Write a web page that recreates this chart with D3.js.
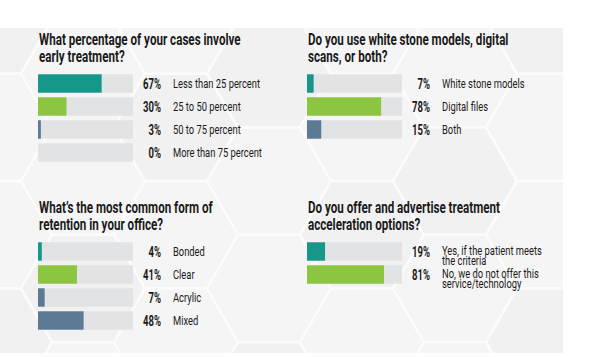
<!DOCTYPE html>
<html><head><meta charset="utf-8">
<script src="https://cdn.jsdelivr.net/npm/d3@7"></script>
<style>html,body{margin:0;padding:0;background:#fff;}svg{display:block;}</style>
</head><body>
<svg id="c" width="600" height="357"></svg>
<script>
// ---- data ----
const q1Title = ["What percentage of your cases involve", "early treatment?"];
const q1Cats = [["Less than 25 percent"], ["25 to 50 percent"], ["50 to 75 percent"], ["More than 75 percent"]];
const q1Vals = [67, 30, 3, 0];
const q1Cols = ["teal", "green", "slate", "slate"];

const q2Title = ["Do you use white stone models, digital", "scans, or both?"];
const q2Cats = [["White stone models"], ["Digital files"], ["Both"]];
const q2Vals = [7, 78, 15];
const q2Cols = ["teal", "green", "slate"];

const q3Title = ["What\u2019s the most common form of", "retention in your office?"];
const q3Cats = [["Bonded"], ["Clear"], ["Acrylic"], ["Mixed"]];
const q3Vals = [4, 41, 7, 48];
const q3Cols = ["teal", "green", "slate", "slate"];

const q4Title = ["Do you offer and advertise treatment", "acceleration options?"];
const q4Cats = [["Yes, if the patient meets", "the criteria"], ["No, we do not offer this", "service/technology"]];
const q4Vals = [19, 81];
const q4Cols = ["teal", "green"];

const palette = {teal: "#17968a", green: "#8cc540", slate: "#5c7a93"};
const track = "#e1e3e4";

const svg = d3.select("#c");

// ---- background ----
const bg = svg.append("g");
bg.append("rect").attr("x", 0).attr("y", 28).attr("width", 563).attr("height", 325).attr("fill", "#f4f4f4");
const clip = svg.append("clipPath").attr("id", "bgclip");
clip.append("rect").attr("x", 0).attr("y", 28).attr("width", 563).attr("height", 325);
const hexG = bg.append("g").attr("clip-path", "url(#bgclip)");
const R = 62, hw = R * 1.5, hh = R * Math.sqrt(3);
const hexPath = d3.line()(d3.range(7).map(i => [R * Math.cos(i * Math.PI / 3), R * Math.sin(i * Math.PI / 3)]));
for (let c = -1; c < 8; c++) {
  for (let r = -1; r < 5; r++) {
    const cx = c * hw - 10, cy = r * hh + (c % 2 ? hh / 2 : 0) + 20;
    hexG.append("path").attr("d", hexPath).attr("transform", `translate(${cx},${cy})`)
      .attr("fill", (c + r) % 3 === 0 ? "#f1f1f1" : "#f5f5f5").attr("stroke", "#fcfcfc").attr("stroke-width", 2.5);
  }
}

// ---- panels ----
function ctext(g, x, y, lines, size, weight, sx, anchor, lh) {
  const t = g.append("text")
    .attr("transform", `translate(${x},${y}) scale(${sx},1)`)
    .attr("font-family", "Roboto, 'Liberation Sans', sans-serif")
    .attr("font-size", size).attr("font-weight", weight).attr("fill", "#1a1a1a")
    .attr("text-anchor", anchor || "start");
  [].concat(lines).forEach((l, j) => t.append("tspan").attr("x", 0).attr("y", j * (lh || 0)).text(l));
  return t;
}

function panel(x0, yTitle, title, cats, vals, cols) {
  const g = svg.append("g");
  ctext(g, x0 + 1, yTitle, title, 16.5, 700, 0.705, "start", 17);
  const barTop = yTitle + 27;
  const y = d3.scaleBand().domain(d3.range(cats.length)).range([barTop, barTop + 23 * cats.length]).paddingInner(0.2).paddingOuter(0.1);
  const x = d3.scaleLinear().domain([0, 100]).range([x0, x0 + 95]);
  const rows = g.selectAll("g.row").data(vals).join("g").attr("class", "row");
  rows.append("rect").attr("x", x(0)).attr("y", (d, i) => y(i)).attr("width", x(100) - x(0)).attr("height", y.bandwidth()).attr("fill", track);
  rows.append("rect").attr("x", x(0)).attr("y", (d, i) => y(i)).attr("width", d => x(d) - x(0)).attr("height", y.bandwidth()).attr("fill", (d, i) => palette[cols[i]]);
  rows.each(function (d, i) {
    const r = d3.select(this);
    const cy = y(i) + y.bandwidth() / 2;
    ctext(r, x0 + 123, cy + 5, d + "%", 14, 700, 0.68, "end");
    const lines = cats[i];
    if (lines.length === 1) ctext(r, x0 + 135, cy + 4.5, lines, 12.5, 400, 0.75);
    else ctext(r, x0 + 135, cy + 3, lines, 12, 400, 0.78, "start", 10);
  });
}

panel(38, 45, q1Title, q1Cats, q1Vals, q1Cols);
panel(307, 45, q2Title, q2Cats, q2Vals, q2Cols);
panel(38, 213, q3Title, q3Cats, q3Vals, q3Cols);
panel(307, 213, q4Title, q4Cats, q4Vals, q4Cols);
</script>
</body></html>
